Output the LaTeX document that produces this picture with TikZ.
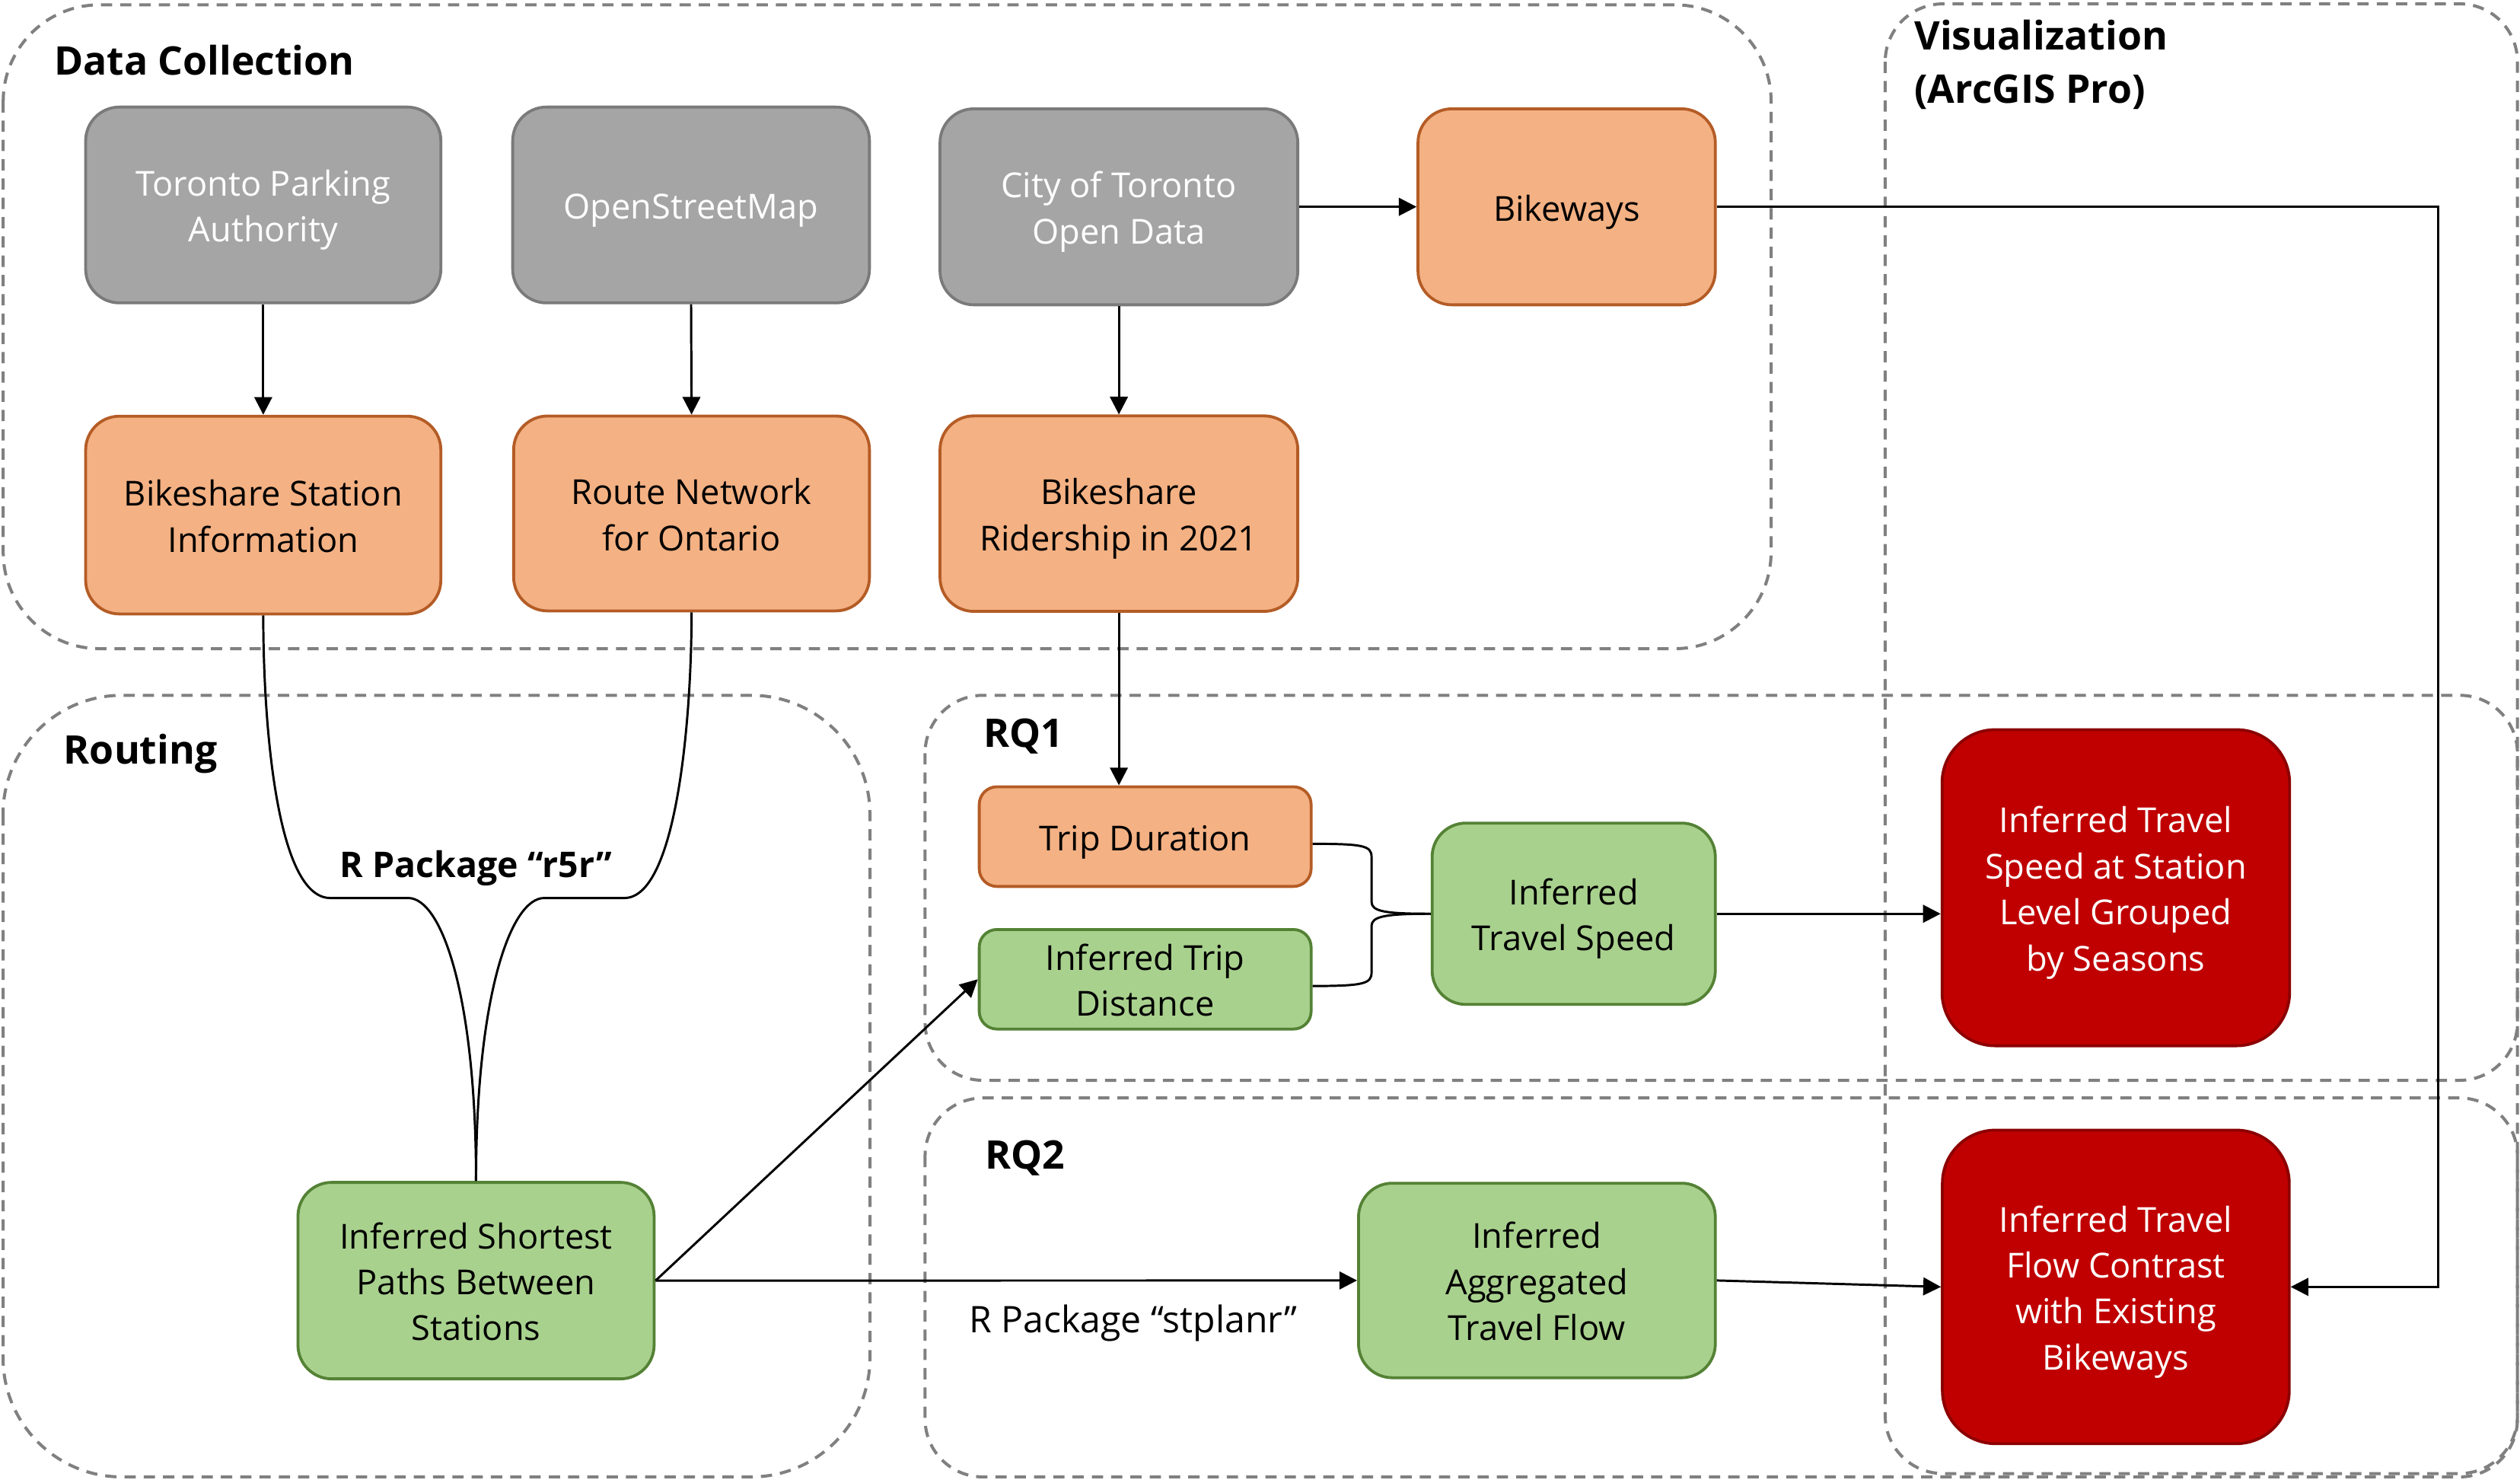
\documentclass[tikz,border=0pt]{standalone}
\usepackage{fontspec}
\setmainfont{Open Sans}
\usetikzlibrary{arrows.meta,calc}
\definecolor{cgray}{HTML}{A5A5A5}
\definecolor{cgrayd}{HTML}{7A7A7A}
\definecolor{corange}{HTML}{F4B183}
\definecolor{corangd}{HTML}{B45C26}
\definecolor{cgreen}{HTML}{A9D18E}
\definecolor{cgreend}{HTML}{548235}
\definecolor{cred}{HTML}{C00000}
\definecolor{credd}{HTML}{8C0000}
\definecolor{cdash}{HTML}{808080}
\newcommand\boxfont{\fontsize{21.4}{28.6}\selectfont}
\newcommand\ttlfont{\fontsize{24.5}{33}\selectfont\bfseries}
\newcommand\st{\rule[-5.6pt]{0pt}{28.6pt}}
\tikzset{
  cont/.style={draw=cdash, line width=1.9pt, dash pattern=on 7pt off 5pt},
  box/.style={draw, line width=1.8pt, rounded corners=21pt, inner sep=0pt, align=center, font=\boxfont},
  graybox/.style={box, fill=cgray, draw=cgrayd, text=white},
  orbox/.style={box, fill=corange, draw=corangd, text=black},
  grbox/.style={box, fill=cgreen, draw=cgreend, text=black},
  redbox/.style={box, fill=cred, draw=credd, text=white, rounded corners=33pt},
  wh/.style 2 args={minimum width=#1pt, minimum height=#2pt},
  ttl/.style={anchor=base west, inner sep=0pt, font=\ttlfont},
  conn/.style={line width=1.4pt, draw=black},
  arr/.style={conn, -{Triangle[length=11pt,width=11pt]}}
}
\begin{document}
\begin{tikzpicture}[x=1pt, y=-1pt]
\useasboundingbox (0,0) rectangle (1568,920.2);

% containers
\draw[cont, rounded corners=60pt] (2,3) rectangle (1102,403.5);
\draw[cont, rounded corners=74pt] (1.9,432.5) rectangle (541.3,918.7);
\draw[cont, rounded corners=36pt] (575.6,432.5) rectangle (1566.4,672);
\draw[cont, rounded corners=36pt] (575.6,683) rectangle (1566.4,918.7);
\draw[cont, rounded corners=36pt] (1173,2.4) rectangle (1566.4,916.6);

% container titles
\node[ttl] (tdc) at (33.5,46.8) {Data Collection};
\node[ttl] (trout) at (39.5,475.1) {Routing};
\node[ttl] (trq1) at (611.8,464.6) {RQ1};
\node[ttl] (trq2) at (612.6,727) {RQ2};
\node[ttl] (tvis1) at (1191,30.8) {Visualization};
\node[ttl] (tvis2) at (1191,64) {(ArcGIS Pro)};

% nodes
\node[graybox, wh={221}{121.8}] (tpa) at (163.8,127.5) {\st Toronto Parking\\\st Authority};
\node[graybox, wh={222}{121.8}] (osm) at (430,127.5) {\st OpenStreetMap};
\node[graybox, wh={222.6}{121.9}] (ctod) at (696.2,128.65) {\st City of Toronto\\\st Open Data};
\node[orbox, wh={185}{121.9}] (bw) at (974.8,128.65) {\st Bikeways};
\node[orbox, wh={221}{123}] (bsi) at (163.8,320.4) {\st Bikeshare Station\\\st Information};
\node[orbox, wh={221.4}{121.2}] (rno) at (430.3,319.4) {\st Route Network\\\st for Ontario};
\node[orbox, wh={222.6}{121.6}] (bri) at (696.2,319.5) {\st Bikeshare\\\st Ridership in 2021};
\node[orbox, wh={206.5}{62}, rounded corners=11pt] (td) at (712.55,520.4) {\st Trip Duration};
\node[grbox, wh={206.5}{61.9}, rounded corners=11pt] (itd) at (712.55,609.15) {\st Inferred Trip\\\st Distance};
\node[grbox, wh={176.2}{112.8}] (its) at (979.2,568.4) {\st Inferred\\\st Travel Speed};
\node[redbox, wh={216.2}{196.6}] (red1) at (1316.5,552.2) {\st Inferred Travel\\\st Speed at Station\\\st Level Grouped\\\st by Seasons};
\node[grbox, wh={221.6}{122.2}] (isp) at (296.2,796.6) {\st Inferred Shortest\\\st Paths Between\\\st Stations};
\node[grbox, wh={222}{121}] (iatf) at (956.3,796.5) {\st Inferred\\\st Aggregated\\\st Travel Flow};
\node[redbox, wh={215.8}{195}] (red2) at (1316.5,800.5) {\st Inferred Travel\\\st Flow Contrast\\\st with Existing\\\st Bikeways};

% edge labels
\node[anchor=base, inner sep=0pt, font=\fontsize{22}{26}\selectfont\bfseries] (lr5r) at (296.2,545.8) {R Package “r5r”};
\node[anchor=base, inner sep=0pt, font=\fontsize{22.8}{26}\selectfont] (lstp) at (705,829) {R Package “stplanr”};

\coordinate (turn) at (1517.1,0);

% connectors
\draw[arr] (tpa.south) -- (bsi.north);
\draw[arr] (osm.south) -- (rno.north);
\draw[arr] (ctod.south) -- (bri.north);
\draw[arr] (ctod.east) -- (bw.west);
\draw[arr] (bw.east) -| (turn |- red2.east) -- (red2.east);
\draw[arr] (bri.south) -- (bri.south |- td.north);

\draw[conn] (bsi.south) .. controls (163.8,450) and (172,558.6) .. (205.5,558.6) -- (254,558.6) .. controls (275,558.6) and (296.2,620) .. (isp.north);
\draw[conn] (rno.south) .. controls (430.3,450) and (420.5,558.6) .. (388.5,558.6) -- (338.6,558.6) .. controls (317.6,558.6) and (296.2,620) .. (isp.north);

\draw[conn] ([yshift=-4.5pt]td.east) .. controls (848,524.9) and (853.4,526) .. (853.4,533) -- (853.4,561) .. controls (853.4,567) and (862,568.4) .. (its.west);
\draw[conn] ([yshift=-4.2pt]itd.east) .. controls (848,613.3) and (853.4,612) .. (853.4,605) -- (853.4,576) .. controls (853.4,570) and (862,568.4) .. (its.west);

\draw[arr] (isp.east) -- (itd.west);
\draw[arr] (isp.east) -- (iatf.west);
\draw[arr] (its.east) -- (its.east -| red1.west);
\draw[arr] (iatf.east) -- (red2.west);
\end{tikzpicture}
\end{document}
